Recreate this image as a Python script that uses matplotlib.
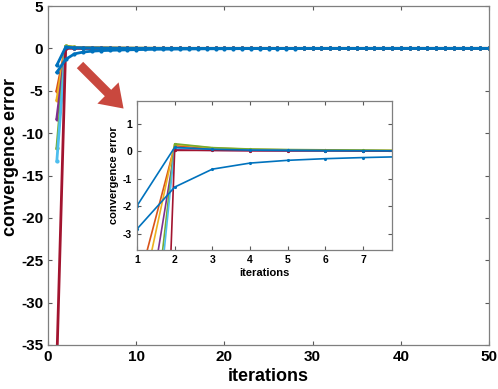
import numpy as np
import matplotlib
matplotlib.use("Agg")
import matplotlib.pyplot as plt
from matplotlib.patches import FancyArrow
from matplotlib.transforms import IdentityTransform

plt.rcParams['font.family'] = ['Liberation Sans', 'DejaVu Sans']
plt.rcParams['axes.unicode_minus'] = False

iterations = list(range(1, 51))

blue_a = [-1.98, 0.14, 0.07, 0.04, 0.03, 0.02, 0.02, 0.01, 0.01, 0.01,
          0.01, 0.0, 0.0, 0.0, 0.0, 0.0, 0.0, 0.0, 0.0, 0.0,
          0.0, 0.0, 0.0, 0.0, 0.0, 0.0, 0.0, 0.0, 0.0, 0.0,
          0.0, 0.0, 0.0, 0.0, 0.0, 0.0, 0.0, 0.0, 0.0, 0.0,
          0.0, 0.0, 0.0, 0.0, 0.0, 0.0, 0.0, 0.0, 0.0, 0.0]
orange = [-5.0, 0.20, 0.09, 0.05, 0.04, 0.03, 0.02, 0.02, 0.01, 0.01,
          0.01, 0.0, 0.0, 0.0, 0.0, 0.0, 0.0, 0.0, 0.0, 0.0,
          0.0, 0.0, 0.0, 0.0, 0.0, 0.0, 0.0, 0.0, 0.0, 0.0,
          0.0, 0.0, 0.0, 0.0, 0.0, 0.0, 0.0, 0.0, 0.0, 0.0,
          0.0, 0.0, 0.0, 0.0, 0.0, 0.0, 0.0, 0.0, 0.0, 0.0]
yellow = [-6.1, 0.25, 0.12, 0.07, 0.05, 0.04, 0.03, 0.02, 0.02, 0.01,
          0.01, 0.01, 0.0, 0.0, 0.0, 0.0, 0.0, 0.0, 0.0, 0.0,
          0.0, 0.0, 0.0, 0.0, 0.0, 0.0, 0.0, 0.0, 0.0, 0.0,
          0.0, 0.0, 0.0, 0.0, 0.0, 0.0, 0.0, 0.0, 0.0, 0.0,
          0.0, 0.0, 0.0, 0.0, 0.0, 0.0, 0.0, 0.0, 0.0, 0.0]
purple = [-8.3, 0.05, 0.03, 0.02, 0.01, 0.01, 0.01, 0.0, 0.0, 0.0,
          0.0, 0.0, 0.0, 0.0, 0.0, 0.0, 0.0, 0.0, 0.0, 0.0,
          0.0, 0.0, 0.0, 0.0, 0.0, 0.0, 0.0, 0.0, 0.0, 0.0,
          0.0, 0.0, 0.0, 0.0, 0.0, 0.0, 0.0, 0.0, 0.0, 0.0,
          0.0, 0.0, 0.0, 0.0, 0.0, 0.0, 0.0, 0.0, 0.0, 0.0]
green = [-11.8, 0.27, 0.13, 0.08, 0.06, 0.05, 0.04, 0.03, 0.02, 0.02,
         0.01, 0.01, 0.01, 0.0, 0.0, 0.0, 0.0, 0.0, 0.0, 0.0,
         0.0, 0.0, 0.0, 0.0, 0.0, 0.0, 0.0, 0.0, 0.0, 0.0,
         0.0, 0.0, 0.0, 0.0, 0.0, 0.0, 0.0, 0.0, 0.0, 0.0,
         0.0, 0.0, 0.0, 0.0, 0.0, 0.0, 0.0, 0.0, 0.0, 0.0]
cyan = [-13.3, 0.12, 0.06, 0.04, 0.03, 0.02, 0.01, 0.01, 0.01, 0.0,
        0.0, 0.0, 0.0, 0.0, 0.0, 0.0, 0.0, 0.0, 0.0, 0.0,
        0.0, 0.0, 0.0, 0.0, 0.0, 0.0, 0.0, 0.0, 0.0, 0.0,
        0.0, 0.0, 0.0, 0.0, 0.0, 0.0, 0.0, 0.0, 0.0, 0.0,
        0.0, 0.0, 0.0, 0.0, 0.0, 0.0, 0.0, 0.0, 0.0, 0.0]
red = [-37.0, 0.03, 0.03, 0.02, 0.02, 0.02, 0.01, 0.01, 0.01, 0.0,
       0.0, 0.0, 0.0, 0.0, 0.0, 0.0, 0.0, 0.0, 0.0, 0.0,
       0.0, 0.0, 0.0, 0.0, 0.0, 0.0, 0.0, 0.0, 0.0, 0.0,
       0.0, 0.0, 0.0, 0.0, 0.0, 0.0, 0.0, 0.0, 0.0, 0.0,
       0.0, 0.0, 0.0, 0.0, 0.0, 0.0, 0.0, 0.0, 0.0, 0.0]
blue_b = [-2.82, -1.30, -0.65, -0.43, -0.33, -0.27, -0.23, -0.20, -0.17, -0.15,
          -0.13, -0.11, -0.10, -0.09, -0.08, -0.07, -0.06, -0.05, -0.05, -0.04,
          -0.04, -0.03, -0.03, -0.03, -0.02, -0.02, -0.02, -0.02, -0.01, -0.01,
          -0.01, -0.01, -0.01, -0.01, -0.01, 0.0, 0.0, 0.0, 0.0, 0.0,
          0.0, 0.0, 0.0, 0.0, 0.0, 0.0, 0.0, 0.0, 0.0, 0.0]

# drawing order: the flat blue run ends on top as in the reference
series = [orange, yellow, purple, green, cyan, red, blue_b, blue_a]
colors = ['#D95319', '#EDB120', '#7E2F8E', '#77AC30', '#4DBEEE', '#A2142F', '#0072BD', '#0072BD']

W, H = 498, 389
fig = plt.figure(figsize=(W / 100, H / 100), dpi=100)

def style_axes(ax, tick_size):
    for sp in ax.spines.values():
        sp.set_color('#7f7f7f')
        sp.set_linewidth(0.9)
    ax.tick_params(direction='in', top=True, right=True, colors='#5a5a5a',
                   labelcolor='black', labelsize=tick_size, length=3, width=0.8)
    for lab in ax.get_xticklabels() + ax.get_yticklabels():
        lab.set_fontweight('bold')

# main axes
ax = fig.add_axes([48 / W, 1 - 345 / H, (489 - 48) / W, (345 - 6) / H])
for vals, c in zip(series, colors):
    ax.plot(iterations, vals, '.-', color=c, lw=2.0, ms=4)
ax.set_xlim(0, 50)
ax.set_ylim(-35, 5)
ax.set_xticks([0, 10, 20, 30, 40, 50])
ax.set_yticks([5, 0, -5, -10, -15, -20, -25, -30, -35])
style_axes(ax, 11)
ax.set_xlabel('iterations', fontsize=13, fontweight='bold', labelpad=3)
ax.set_ylabel('convergence error', fontsize=13, fontweight='bold', labelpad=0)
ax.yaxis.set_label_coords(-0.066, 0.555)

# arrow
arrow = FancyArrow(80, H - 65, 28, -28, width=9, head_width=30, head_length=22,
                   length_includes_head=False, color='#C9483E', lw=0,
                   transform=IdentityTransform())
fig.add_artist(arrow)

# inset
ins = fig.add_axes([137 / W, 1 - 250 / H, (392 - 137) / W, (250 - 101) / H])
for vals, c in zip(series, colors):
    ins.plot(iterations, vals, '.-', color=c, lw=1.2, ms=2.5)
ins.set_xlim(1, 7.77)
ins.set_ylim(-3.58, 1.82)
ins.set_xticks([1, 2, 3, 4, 5, 6, 7])
ins.set_yticks([-3, -2, -1, 0, 1])
style_axes(ins, 7.5)
ins.set_xlabel('iterations', fontsize=8, fontweight='bold', labelpad=2)
ins.set_ylabel('convergence error', fontsize=8, fontweight='bold', labelpad=3)

fig.savefig('out.png', dpi=100)
